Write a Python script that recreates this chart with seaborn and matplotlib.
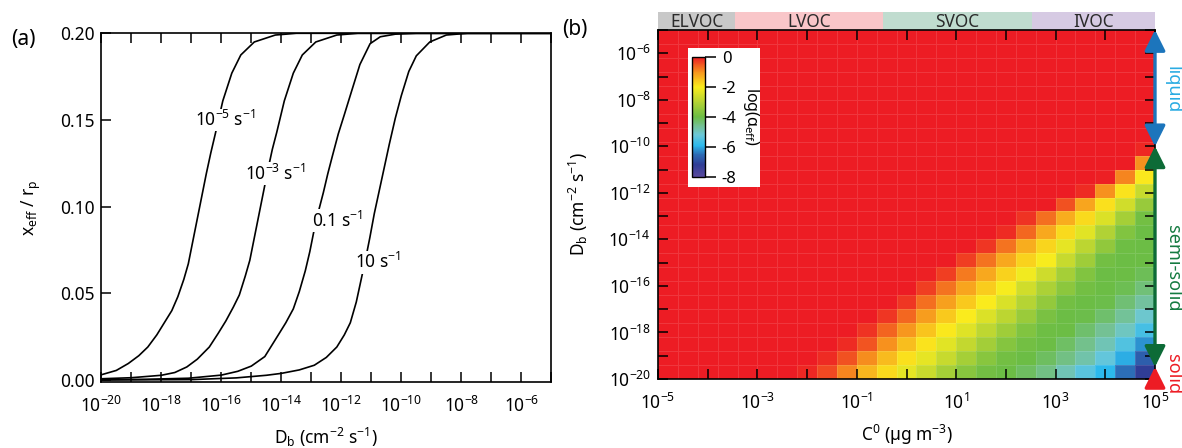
import numpy as np
import pandas as pd
import matplotlib
matplotlib.use("Agg")
import matplotlib.pyplot as plt
import seaborn as sns
from matplotlib.colors import LinearSegmentedColormap
from matplotlib.patches import Rectangle
from matplotlib.ticker import NullLocator
from matplotlib.transforms import blended_transform_factory

# ------------------------------------------------------------------ data (a)
rate_labels = [r"$10^{-5}$ s$^{-1}$", r"$10^{-3}$ s$^{-1}$", r"0.1 s$^{-1}$", r"10 s$^{-1}$"]

curve1_logDb = [-20.0, -19.5, -19.1, -18.75, -18.45, -18.15, -17.9, -17.65, -17.45, -17.25,
                -17.1, -16.95, -16.8, -16.65, -16.5, -16.35, -16.2, -15.95, -15.65, -15.35,
                -14.9, -14.2, -13.5, -5.0]
curve1_ratio = [0.0030, 0.0055, 0.0095, 0.014, 0.019, 0.026, 0.033, 0.040, 0.048, 0.058,
                0.067, 0.080, 0.093, 0.106, 0.119, 0.131, 0.142, 0.161, 0.177, 0.1875,
                0.195, 0.199, 0.200, 0.200]

curve2_logDb = [-20.0, -19.0, -18.0, -17.55, -17.15, -16.8, -16.4, -16.1, -15.85, -15.6,
                -15.4, -15.2, -15.05, -14.9, -14.75, -14.6, -14.45, -14.3, -14.15, -13.9,
                -13.6, -13.3, -12.85, -12.15, -11.45, -5.0]
curve2_ratio = [0.0007, 0.0013, 0.0027, 0.0043, 0.0075, 0.012, 0.019, 0.027, 0.034, 0.042,
                0.049, 0.060, 0.069, 0.082, 0.095, 0.108, 0.121, 0.133, 0.143, 0.161,
                0.177, 0.1875, 0.195, 0.199, 0.200, 0.200]

curve3_logDb = [-20.0, -18.5, -17.1, -16.0, -15.45, -15.0, -14.55, -14.1, -13.85, -13.6,
                -13.4, -13.2, -13.05, -12.9, -12.75, -12.6, -12.45, -12.3, -12.1, -11.9,
                -11.65, -11.38, -11.04, -10.7, -10.2, -9.5, -5.0]
curve3_ratio = [0.0001, 0.0004, 0.0010, 0.0028, 0.0050, 0.0080, 0.0135, 0.026, 0.033, 0.041,
                0.051, 0.063, 0.074, 0.087, 0.098, 0.108, 0.119, 0.129, 0.142, 0.153,
                0.167, 0.182, 0.194, 0.198, 0.1995, 0.200, 0.200]

curve4_logDb = [-20.0, -17.0, -15.5, -14.5, -14.0, -13.4, -12.9, -12.5, -12.15, -11.9,
                -11.7, -11.5, -11.35, -11.2, -11.05, -10.9, -10.75, -10.6, -10.4, -10.2,
                -10.0, -9.75, -9.5, -9.05, -8.5, -7.8, -5.0]
curve4_ratio = [0.00002, 0.0002, 0.0012, 0.0027, 0.0038, 0.0058, 0.0085, 0.013, 0.019, 0.026,
                0.033, 0.045, 0.057, 0.069, 0.082, 0.096, 0.108, 0.120, 0.136, 0.151,
                0.164, 0.178, 0.187, 0.195, 0.199, 0.200, 0.200]

curves_logDb = [curve1_logDb, curve2_logDb, curve3_logDb, curve4_logDb]
curves_ratio = [curve1_ratio, curve2_ratio, curve3_ratio, curve4_ratio]
label_logDb = [-15.88, -14.21, -12.14, -10.78]
label_ratio = [0.150, 0.119, 0.092, 0.068]

# ------------------------------------------------------------------ data (b)
logC_centers = [-4.8, -4.4, -4.0, -3.6, -3.2, -2.8, -2.4, -2.0, -1.6, -1.2, -0.8, -0.4, 0.0,
                0.4, 0.8, 1.2, 1.6, 2.0, 2.4, 2.8, 3.2, 3.6, 4.0, 4.4, 4.8]
logDb_centers = [-19.7, -19.1, -18.5, -17.9, -17.3, -16.7, -16.1, -15.5, -14.9, -14.3, -13.7,
                 -13.1, -12.5, -11.9, -11.3, -10.7, -10.1, -9.5, -8.9, -8.3, -7.7, -7.1, -6.5,
                 -5.9, -5.3]
# log10(alpha_eff), one row per Db row (bottom row first)
log_alpha = [
    [0, 0, 0, 0, 0, 0, 0, -0.1, -0.4, -0.9, -1.4, -1.8, -2.3, -2.7, -3.2, -3.6, -3.9, -4.0, -4.2, -4.5, -4.9, -5.4, -5.9, -6.5, -7.2],
    [0, 0, 0, 0, 0, 0, 0, 0, -0.15, -0.45, -0.95, -1.45, -1.85, -2.3, -2.75, -3.2, -3.6, -3.9, -4.0, -4.2, -4.5, -4.8, -5.3, -6.0, -6.7],
    [0, 0, 0, 0, 0, 0, 0, 0, 0, -0.15, -0.5, -1.0, -1.5, -1.9, -2.35, -2.8, -3.25, -3.65, -3.9, -4.0, -4.25, -4.55, -4.9, -5.5, -6.2],
    [0, 0, 0, 0, 0, 0, 0, 0, 0, 0, -0.2, -0.6, -1.05, -1.55, -1.95, -2.4, -2.85, -3.3, -3.7, -3.95, -4.0, -4.3, -4.6, -5.0, -5.6],
    [0, 0, 0, 0, 0, 0, 0, 0, 0, 0, 0, -0.25, -0.65, -1.1, -1.6, -2.0, -2.45, -2.9, -3.35, -3.8, -4.0, -4.05, -4.3, -4.65, -5.1],
    [0, 0, 0, 0, 0, 0, 0, 0, 0, 0, 0, 0, -0.25, -0.7, -1.15, -1.6, -2.0, -2.5, -3.0, -3.45, -3.9, -4.0, -4.05, -4.35, -4.7],
    [0, 0, 0, 0, 0, 0, 0, 0, 0, 0, 0, 0, 0, -0.3, -0.75, -1.2, -1.65, -2.05, -2.6, -3.1, -3.55, -3.9, -4.0, -4.1, -4.4],
    [0, 0, 0, 0, 0, 0, 0, 0, 0, 0, 0, 0, 0, -0.05, -0.3, -0.8, -1.25, -1.7, -2.15, -2.65, -3.2, -3.7, -4.0, -4.0, -4.15],
    [0, 0, 0, 0, 0, 0, 0, 0, 0, 0, 0, 0, 0, 0, 0, -0.3, -0.75, -1.25, -1.7, -2.05, -2.75, -3.3, -3.9, -4.0, -4.0],
    [0, 0, 0, 0, 0, 0, 0, 0, 0, 0, 0, 0, 0, 0, 0, 0, -0.25, -0.75, -1.3, -1.75, -2.3, -2.9, -3.5, -3.95, -4.0],
    [0, 0, 0, 0, 0, 0, 0, 0, 0, 0, 0, 0, 0, 0, 0, 0, 0, -0.15, -0.65, -1.25, -1.8, -2.35, -3.05, -3.7, -4.0],
    [0, 0, 0, 0, 0, 0, 0, 0, 0, 0, 0, 0, 0, 0, 0, 0, 0, 0, -0.2, -0.7, -1.3, -1.8, -2.45, -3.2, -3.9],
    [0, 0, 0, 0, 0, 0, 0, 0, 0, 0, 0, 0, 0, 0, 0, 0, 0, 0, 0, 0, -0.45, -1.2, -1.85, -2.6, -3.4],
    [0, 0, 0, 0, 0, 0, 0, 0, 0, 0, 0, 0, 0, 0, 0, 0, 0, 0, 0, 0, 0, -0.15, -1.0, -1.9, -2.75],
    [0, 0, 0, 0, 0, 0, 0, 0, 0, 0, 0, 0, 0, 0, 0, 0, 0, 0, 0, 0, 0, 0, -0.05, -0.9, -1.95],
    [0, 0, 0, 0, 0, 0, 0, 0, 0, 0, 0, 0, 0, 0, 0, 0, 0, 0, 0, 0, 0, 0, 0, 0, -1.0],
    [0, 0, 0, 0, 0, 0, 0, 0, 0, 0, 0, 0, 0, 0, 0, 0, 0, 0, 0, 0, 0, 0, 0, 0, -0.1],
    [0, 0, 0, 0, 0, 0, 0, 0, 0, 0, 0, 0, 0, 0, 0, 0, 0, 0, 0, 0, 0, 0, 0, 0, 0],
    [0, 0, 0, 0, 0, 0, 0, 0, 0, 0, 0, 0, 0, 0, 0, 0, 0, 0, 0, 0, 0, 0, 0, 0, 0],
    [0, 0, 0, 0, 0, 0, 0, 0, 0, 0, 0, 0, 0, 0, 0, 0, 0, 0, 0, 0, 0, 0, 0, 0, 0],
    [0, 0, 0, 0, 0, 0, 0, 0, 0, 0, 0, 0, 0, 0, 0, 0, 0, 0, 0, 0, 0, 0, 0, 0, 0],
    [0, 0, 0, 0, 0, 0, 0, 0, 0, 0, 0, 0, 0, 0, 0, 0, 0, 0, 0, 0, 0, 0, 0, 0, 0],
    [0, 0, 0, 0, 0, 0, 0, 0, 0, 0, 0, 0, 0, 0, 0, 0, 0, 0, 0, 0, 0, 0, 0, 0, 0],
    [0, 0, 0, 0, 0, 0, 0, 0, 0, 0, 0, 0, 0, 0, 0, 0, 0, 0, 0, 0, 0, 0, 0, 0, 0],
    [0, 0, 0, 0, 0, 0, 0, 0, 0, 0, 0, 0, 0, 0, 0, 0, 0, 0, 0, 0, 0, 0, 0, 0, 0],
]
volatility_classes = ["ELVOC", "LVOC", "SVOC", "IVOC"]
volatility_edges = [1e-5, 3.6e-4, 0.34, 330.0, 1e5]
volatility_colors = ["#c8c8c8", "#f9c6c9", "#c0dccf", "#d6cae3"]
phase_names = ["liquid", "semi-solid", "solid"]
phase_colors = ["#29abe2", "#137a3f", "#ed1c24"]
arrow_colors = ["#1c75bc", "#0d6b37", "#ed1c24"]

# ------------------------------------------------------------------ style
sns.set_style("ticks")
plt.rcParams.update({
    "font.family": ["Noto Sans", "DejaVu Sans"],
    "mathtext.fontset": "custom",
    "mathtext.rm": "Noto Sans",
    "mathtext.it": "Noto Sans:italic",
    "mathtext.bf": "Noto Sans:bold",
    "mathtext.default": "regular",
    "axes.unicode_minus": False,
    "axes.edgecolor": "black",
    "axes.linewidth": 1.2,
    "xtick.color": "black",
    "ytick.color": "black",
    "text.color": "black",
    "axes.labelcolor": "black",
})

W, H = 1182, 448
fig = plt.figure(figsize=(W / 100, H / 100), dpi=100)


def frac(x0, y_top, x1, y_bot):
    return [x0 / W, 1 - y_bot / H, (x1 - x0) / W, (y_bot - y_top) / H]


FS = 12.5

# ------------------------------------------------------------------ panel (a)
ax_a = fig.add_axes(frac(101.3, 33.3, 551.3, 381.7))
for lx, ly in zip(curves_logDb, curves_ratio):
    sns.lineplot(x=10.0 ** np.array(lx), y=ly, ax=ax_a, color="black", lw=1.2,
                 estimator=None, sort=False)
ax_a.set_xscale("log")
ax_a.set_xlim(1e-20, 1e-5)
ax_a.set_ylim(-0.001, 0.2)
exps_a = list(range(-20, -4))
ax_a.set_xticks([10.0 ** e for e in exps_a])
ax_a.set_xticklabels([f"$10^{{{e}}}$" if (e % 2 == 0 and e <= -6) else "" for e in exps_a])
ax_a.xaxis.set_minor_locator(NullLocator())
ax_a.set_yticks([0.0, 0.05, 0.10, 0.15, 0.20])
ax_a.set_yticklabels(["0.00", "0.05", "0.10", "0.15", "0.20"])
ax_a.tick_params(axis="both", direction="in", length=7, width=1.1, labelsize=FS, pad=5,
                 top=True, right=False)
ax_a.tick_params(axis="x", pad=10)
for lab, lx, ly in zip(rate_labels, label_logDb, label_ratio):
    ax_a.text(10.0 ** lx, ly, lab, ha="center", va="center", fontsize=FS,
              bbox=dict(facecolor="white", edgecolor="none", pad=1.0))
ax_a.set_xlabel(r"D$_b$ (cm$^{-2}$ s$^{-1}$)", fontsize=FS)
ax_a.set_ylabel(r"x$_{eff}$ / r$_p$", fontsize=FS)
ax_a.xaxis.set_label_coords(0.5, -0.128)
ax_a.yaxis.set_label_coords(-0.13, 0.5)

# ------------------------------------------------------------------ panel (b)
rect_b = frac(658, 30, 1155, 379)
ax_h = fig.add_axes(rect_b)
ax_h.set_zorder(1)
cax = fig.add_axes(frac(692, 57, 705, 177))
cax.set_zorder(4)

nodes = [(-8.0, "#5b4a9e"), (-7.2, "#2f3d96"), (-6.5, "#2c6db6"), (-5.9, "#2cb9ec"),
         (-5.2, "#6cc8d8"), (-4.6, "#74c193"), (-4.0, "#6bbd45"), (-3.0, "#b4d334"),
         (-2.0, "#faed1d"), (-1.0, "#f7941e"), (0.0, "#ed1c24")]
cmap = LinearSegmentedColormap.from_list("igor_rainbow", [((v + 8) / 8, c) for v, c in nodes])

df = pd.DataFrame(np.array(log_alpha)[::-1], index=logDb_centers[::-1], columns=logC_centers)
sns.heatmap(df, ax=ax_h, cmap=cmap, vmin=-8, vmax=0, cbar_ax=cax,
            linewidths=0.5, linecolor=(1, 1, 1, 0.12),
            xticklabels=False, yticklabels=False)
ax_h.set_xlabel("")
ax_h.set_ylabel("")
ax_h.tick_params(left=False, bottom=False)

# colorbar
cbar = ax_h.collections[0].colorbar
cbar.set_ticks([0, -2, -4, -6, -8])
cbar.set_ticklabels(["0", "-2", "-4", "-6", "-8"])
cax.tick_params(direction="out", length=8, width=1.1, labelsize=12, pad=4)
cbar.outline.set_edgecolor("black")
cbar.outline.set_linewidth(1.0)
cax.set_ylabel(r"log(α$_{eff}$)", rotation=270, va="center", fontsize=11.5)
cax.yaxis.set_label_coords((751 - 692) / 13, 0.5)
fig.add_artist(Rectangle((688 / W, 1 - 187 / H), 72 / W, 139 / H, transform=fig.transFigure,
                         facecolor="white", edgecolor="none", zorder=3))

# log overlay for axes / ticks / arrows
ax_b = fig.add_axes(rect_b, facecolor="none")
ax_b.set_zorder(2)
ax_b.set_xscale("log")
ax_b.set_yscale("log")
ax_b.set_xlim(1e-5, 1e5)
ax_b.set_ylim(1e-20, 1e-5)
exps_x = list(range(-5, 6))
exps_y = list(range(-20, -4))
ax_b.set_xticks([10.0 ** e for e in exps_x])
ax_b.set_xticklabels([f"$10^{{{e}}}$" if e % 2 != 0 else "" for e in exps_x])
ax_b.set_yticks([10.0 ** e for e in exps_y])
ax_b.set_yticklabels([f"$10^{{{e}}}$" if (e % 2 == 0 and e <= -6) else "" for e in exps_y])
ax_b.xaxis.set_minor_locator(NullLocator())
ax_b.yaxis.set_minor_locator(NullLocator())
ax_b.tick_params(axis="both", direction="in", length=7, width=1.1, labelsize=FS, pad=5,
                 top=True, right=True)
ax_b.tick_params(axis="x", pad=10)
ax_b.set_xlabel(r"C$^{0}$ (µg m$^{-3}$)", fontsize=FS)
ax_b.set_ylabel(r"D$_b$ (cm$^{-2}$ s$^{-1}$)", fontsize=FS)
ax_b.xaxis.set_label_coords(0.5, -0.127)
ax_b.yaxis.set_label_coords(-0.137, 0.5)

# phase-state arrows on the right edge
astyle2 = "<|-|>,head_length=0.9,head_width=0.45"
astyle1 = "-|>,head_length=0.9,head_width=0.45"
arrow_spans = [(1e-5, 1e-10), (1e-10, 10 ** -19.48)]
for (y0, y1), col in zip(arrow_spans, arrow_colors[:2]):
    ax_b.annotate("", xy=(1e5, y1), xytext=(1e5, y0), annotation_clip=False,
                  arrowprops=dict(arrowstyle=astyle2, color=col, lw=2.4,
                                  shrinkA=0, shrinkB=0, mutation_scale=14))
ax_b.annotate("", xy=(1e5, 10 ** -19.48), xytext=(1e5, 10 ** -20.3), annotation_clip=False,
              arrowprops=dict(arrowstyle=astyle1, color=arrow_colors[2], lw=2.4,
                              shrinkA=0, shrinkB=0, mutation_scale=14))
tr = blended_transform_factory(ax_b.transAxes, ax_b.transData)
phase_label_y = [10 ** -7.58, 10 ** -15.23, 10 ** -19.8]
for name, col, yy in zip(phase_names, phase_colors, phase_label_y):
    ax_b.text(1.036, yy, name, transform=tr, rotation=270, ha="center", va="center",
              color=col, fontsize=13, clip_on=False)

# volatility class band
ax_v = fig.add_axes(frac(658, 12, 1155, 30))
ax_v.set_xscale("log")
ax_v.set_xlim(1e-5, 1e5)
ax_v.set_ylim(0, 1)
for name, e0, e1, col in zip(volatility_classes, volatility_edges[:-1], volatility_edges[1:],
                             volatility_colors):
    ax_v.axvspan(e0, e1, color=col, lw=0)
    ax_v.text(np.sqrt(e0 * e1), 0.45, name, ha="center", va="center", fontsize=12.5,
              color="#2b2b2b")
ax_v.axis("off")

# panel labels
fig.text(23 / W, 1 - 39 / H, "(a)", ha="center", va="center", fontsize=15)
fig.text(575 / W, 1 - 30 / H, "(b)", ha="center", va="center", fontsize=15)

fig.savefig("out.png", dpi=100)
